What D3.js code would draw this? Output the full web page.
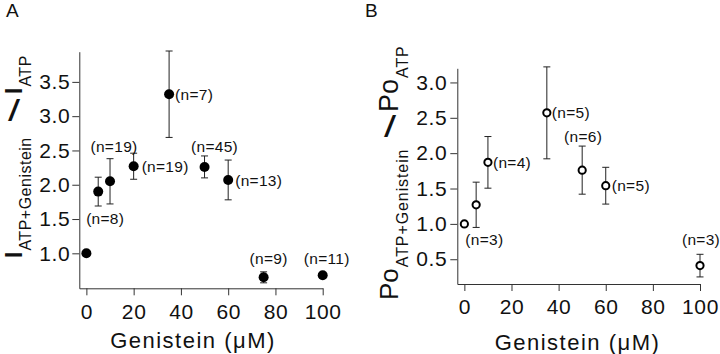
<!DOCTYPE html>
<html>
<head>
<meta charset="utf-8">
<script src="https://cdn.jsdelivr.net/npm/d3@7"></script>
<style>
  html, body { margin: 0; padding: 0; background: #fff; }
  svg { display: block; }
  text { font-family: "Liberation Sans", Arial, Helvetica, sans-serif; fill: #111; }
</style>
</head>
<body>
<svg id="chart" width="720" height="354"></svg>
<script>
// ---------------- DATA ----------------
// Panel A: I(ATP+Genistein) / I(ATP)
const concA   = [0, 5, 10, 20, 35, 50, 60, 75, 100];
const ratioA  = [1.00, 1.90, 2.05, 2.27, 3.32, 2.26, 2.07, 0.65, 0.68];
const errA    = [0, 0.21, 0.33, 0.19, 0.63, 0.16, 0.29, 0.08, 0];
const nA      = [null, 8, 19, 19, 7, 45, 13, 9, 11];

// Panel B: Po(ATP+Genistein) / Po(ATP)
const concB   = [0, 5, 10, 35, 50, 60, 100];
const ratioB  = [1.00, 1.27, 1.87, 2.57, 1.76, 1.54, 0.41];
const errB    = [0, 0.32, 0.365, 0.65, 0.34, 0.26, 0.16];
const nB      = [3, null, 4, 5, 6, 5, 3];

const xTicks  = [0, 20, 40, 60, 80, 100];
const yTicksA = [1.0, 1.5, 2.0, 2.5, 3.0, 3.5];
const yTicksB = [0.5, 1.0, 1.5, 2.0, 2.5, 3.0];
const xTitle  = "Genistein (\u03BCM)";

// ---------------- LAYOUT (not data) ----------------
// label placement relative to each point: [anchor, dx, dy, centered-vertically]
const labelPosA = [null, ["middle", 7, 32, false], ["middle", 4, -29.5, false], ["start", 8, 0, true],
                   ["start", 6, 0, true], ["middle", 10, -15, false], ["start", 7, 0, true],
                   ["middle", 5, -13, false], ["middle", 4, -11, false]];
const labelPosB = [["start", 1, 21, false], null, ["start", 5, 0, true], ["start", 5, 0, true],
                   ["middle", 1, -28, false], ["start", 6, 0, true], ["middle", 1, -20.5, false]];

const svg = d3.select("#chart");
const FONT_TICK = 21, FONT_LABEL = 15.5;

function drawPanel(opts) {
  const { x, y, xs, ys, errs, ns, labelPos, yTicks, filled, r, tickPadY, tickPadX } = opts;
  const g = svg.append("g");

  // axes
  const ax = g.append("g")
    .attr("transform", `translate(0,${y.range()[0]})`)
    .call(d3.axisBottom(x).tickValues(xTicks).tickSize(7).tickSizeOuter(0).tickPadding(tickPadX).tickFormat(d3.format("d")));
  const ay = g.append("g")
    .attr("transform", `translate(${x.range()[0]},0)`)
    .call(d3.axisLeft(y).tickValues(yTicks).tickSize(7).tickSizeOuter(0).tickPadding(tickPadY).tickFormat(d3.format(".1f")));
  [ax, ay].forEach(a => {
    a.selectAll("path.domain").attr("stroke", "#333").attr("stroke-width", 1);
    a.selectAll(".tick line").attr("stroke", "#333").attr("stroke-width", 1);
    a.selectAll(".tick text").attr("font-size", FONT_TICK).attr("fill", "#111")
      .attr("font-family", "'Liberation Sans', Arial, sans-serif").attr("letter-spacing", 0.6);
  });

  const pts = xs.map((v, i) => ({ x: v, y: ys[i], e: errs[i], n: ns[i], lp: labelPos[i] }));

  // error bars
  const eb = g.append("g").attr("stroke", "#222").attr("stroke-width", 1).attr("fill", "none");
  pts.filter(d => d.e > 0).forEach(d => {
    const cx = x(d.x), y1 = y(d.y + d.e), y2 = y(d.y - d.e);
    eb.append("line").attr("x1", cx).attr("x2", cx).attr("y1", y1).attr("y2", y2);
    eb.append("line").attr("x1", cx - 3.5).attr("x2", cx + 3.5).attr("y1", y1).attr("y2", y1);
    eb.append("line").attr("x1", cx - 3.5).attr("x2", cx + 3.5).attr("y1", y2).attr("y2", y2);
  });

  // markers
  g.append("g").selectAll("circle").data(pts).join("circle")
    .attr("cx", d => x(d.x)).attr("cy", d => y(d.y)).attr("r", r)
    .attr("fill", filled ? "#000" : "#fff")
    .attr("stroke", "#000").attr("stroke-width", filled ? 0 : 2);

  // n labels
  g.append("g").selectAll("text").data(pts.filter(d => d.n != null)).join("text")
    .attr("x", d => x(d.x) + d.lp[1])
    .attr("y", d => y(d.y) + d.lp[2])
    .attr("dy", d => d.lp[3] ? "0.36em" : null)
    .attr("text-anchor", d => d.lp[0])
    .attr("font-size", FONT_LABEL)
    .attr("letter-spacing", 0.3)
    .text(d => `(n=${d.n})`);
  return g;
}

// Panel A
const xA = d3.scaleLinear().domain([-3, 100]).range([79.3, 322.7]);
const yA = d3.scaleLinear().domain([0.49, 3.94]).range([288.3, 51.7]);
drawPanel({ x: xA, y: yA, xs: concA, ys: ratioA, errs: errA, ns: nA, labelPos: labelPosA,
            yTicks: yTicksA, filled: true, r: 5, tickPadY: 2, tickPadX: 8.5 });

// Panel B
const xB = d3.scaleLinear().domain([-3, 100]).range([457.3, 700]);
const yB = d3.scaleLinear().domain([0.15, 3.2]).range([284, 68.3]);
drawPanel({ x: xB, y: yB, xs: concB, ys: ratioB, errs: errB, ns: nB, labelPos: labelPosB,
            yTicks: yTicksB, filled: false, r: 3.6, tickPadY: 3, tickPadX: 8 });

// X axis titles
svg.append("text").attr("x", 193).attr("y", 348).attr("text-anchor", "middle")
  .attr("font-size", 22).attr("letter-spacing", 1.5).text(xTitle);
svg.append("text").attr("x", 577.5).attr("y", 350).attr("text-anchor", "middle")
  .attr("font-size", 22).attr("letter-spacing", 1.5).text(xTitle);

// Panel letters
svg.append("text").attr("x", 6).attr("y", 17).attr("font-size", 19).text("A");
svg.append("text").attr("x", 365).attr("y", 17).attr("font-size", 19).text("B");

// Y axis titles (rotated), built from pieces
function yTitlePart(tx, ty, big, sub, bigSize, bigWeight, subSize, subShift, subSpacing) {
  const t = svg.append("text").attr("transform", `translate(${tx},${ty}) rotate(-90)`)
    .attr("text-anchor", "start");
  t.append("tspan").attr("font-size", bigSize).attr("font-weight", bigWeight).text(big);
  t.append("tspan").attr("font-size", subSize).attr("dy", subShift).attr("dx", 1)
    .attr("letter-spacing", subSpacing).text(sub);
}
function slash(cx, cy) {
  svg.append("text").attr("transform", `translate(${cx},${cy}) scale(1.5,1)`)
    .attr("text-anchor", "middle").attr("font-size", 29).attr("font-weight", "normal").text("/");
}
// A
yTitlePart(21.5, 258, "I", "ATP+Genistein", 23, "bold", 16, 9.5, 0.5);
yTitlePart(21.5, 94, "I", "ATP", 23, "bold", 16, 9.5, 0.5);
slash(14, 121);
// B
yTitlePart(398, 300, "Po", "ATP+Genistein", 26, "normal", 16, 10, 0.9);
yTitlePart(398, 112, "Po", "ATP", 27, "normal", 16, 10, 0.9);
slash(390, 137);
</script>
</body>
</html>
